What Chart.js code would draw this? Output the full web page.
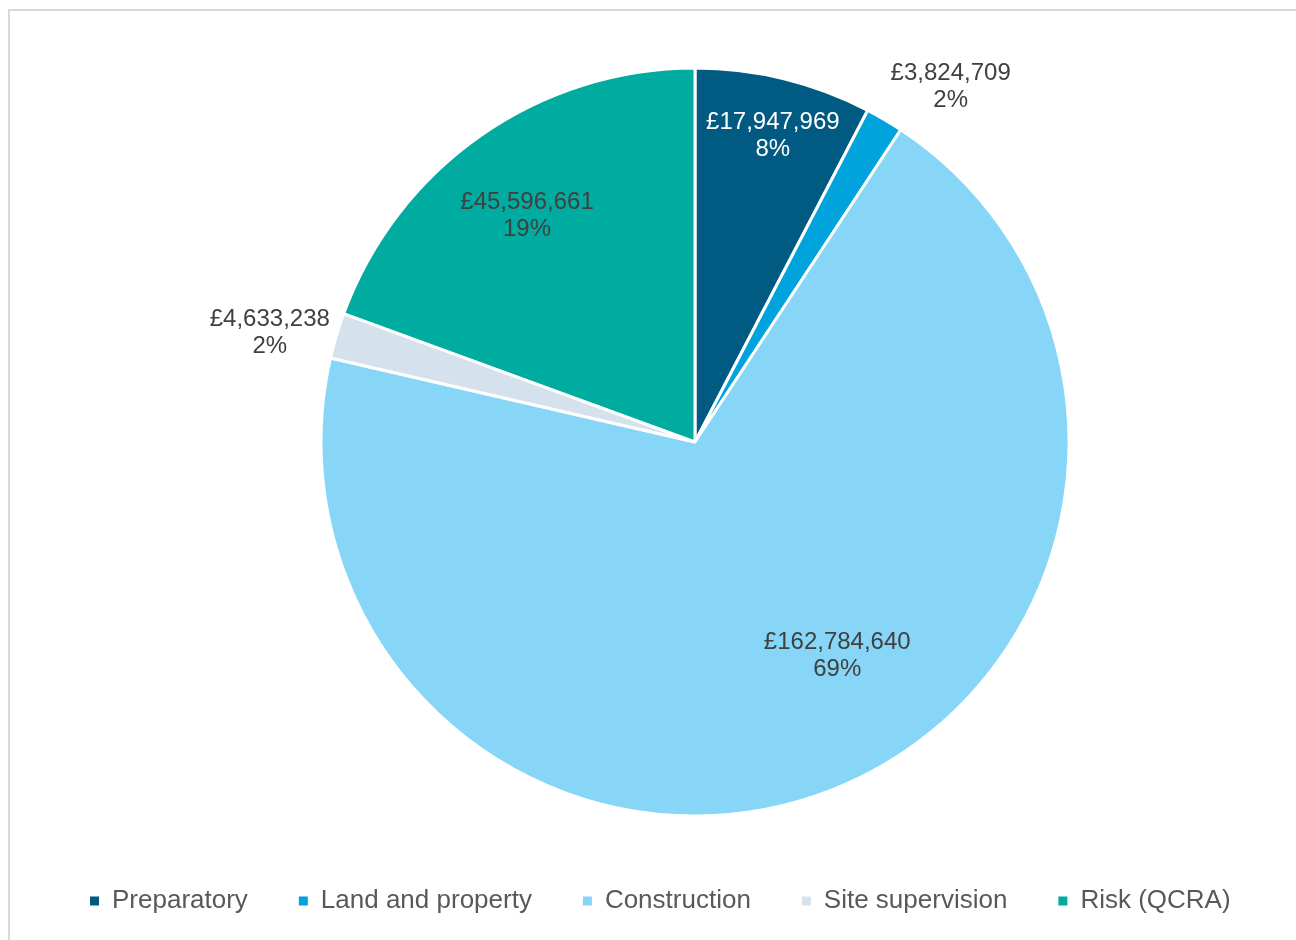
<!DOCTYPE html>
<html>
<head>
<meta charset="utf-8">
<script src="https://cdn.jsdelivr.net/npm/chart.js@4"></script>
<style>
  html, body { margin: 0; padding: 0; background: #fff; overflow: hidden; }
  #frame {
    position: absolute; left: 8px; top: 9px;
    width: 1341px; height: 980px;
    border: 2px solid #d9d9d9;
  }
</style>
</head>
<body>
<div id="frame"><canvas id="costChart" width="1341" height="913"></canvas></div>
<script>
// cost breakdown by category (£)
const categories = ['Preparatory', 'Land and property', 'Construction', 'Site supervision', 'Risk (QCRA)'];
const costs = [17947969, 3824709, 162784640, 4633238, 45596661];
const percentLabels = ['8%', '2%', '69%', '2%', '19%'];

const sliceColors = ['#005a82', '#00a3dc', '#87d5f7', '#d5e1ec', '#00aba0'];

// where each label sits: fraction of radius and nudge in degrees from slice middle
const labelPlacement = [
  { frac: 0.845, nudge: 0.5, color: '#ffffff' },
  { frac: 1.17, nudge: 5.3, color: '#404040' },
  { frac: 0.687, nudge: -11.8, color: '#404040' },
  { frac: 1.174, nudge: -2.1, color: '#404040' },
  { frac: 0.754, nudge: -1.6, color: '#404040' }
];

const fmtMoney = v => '£' + v.toLocaleString('en-GB');

// draws "£value / pct" labels next to or inside each slice
const sliceLabels = {
  id: 'sliceLabels',
  afterDatasetsDraw(chart) {
    const ctx = chart.ctx;
    const meta = chart.getDatasetMeta(0);
    ctx.save();
    ctx.font = '24px "Liberation Sans", Arial, sans-serif';
    ctx.textAlign = 'center';
    ctx.textBaseline = 'middle';
    meta.data.forEach((arc, i) => {
      const p = arc.getProps(['x', 'y', 'startAngle', 'endAngle', 'outerRadius'], true);
      const place = labelPlacement[i];
      const mid = (p.startAngle + p.endAngle) / 2 + place.nudge * Math.PI / 180;
      const r = p.outerRadius * place.frac;
      const cx = p.x + Math.cos(mid) * r;
      const cy = p.y + Math.sin(mid) * r;
      ctx.fillStyle = place.color;
      ctx.fillText(fmtMoney(costs[i]), cx, cy - 13.5);
      ctx.fillText(percentLabels[i], cx, cy + 13.5);
    });
    ctx.restore();
  }
};

const ctx = document.getElementById('costChart').getContext('2d');
const costChart = new Chart(ctx, {
  type: 'pie',
  data: {
    labels: categories,
    datasets: [{
      data: costs,
      backgroundColor: sliceColors,
      borderColor: '#ffffff',
      borderWidth: 3,
      radius: 374
    }]
  },
  options: {
    responsive: false,
    animation: false,
    layout: { padding: { left: 29, top: 36, right: 0, bottom: 0 } },
    plugins: {
      legend: {
        position: 'bottom',
        align: 'start',
        labels: {
          boxWidth: 9,
          boxHeight: 9,
          padding: 51,
          color: '#595959',
          font: { family: '"Liberation Sans", Arial, sans-serif', size: 26 },
          // solid squares, without the white slice border
          generateLabels(chart) {
            return Chart.overrides.pie.plugins.legend.labels.generateLabels(chart)
              .map(item => Object.assign(item, { lineWidth: 0 }));
          }
        }
      },
      tooltip: { enabled: false }
    }
  },
  plugins: [sliceLabels]
});
</script>
</body>
</html>
